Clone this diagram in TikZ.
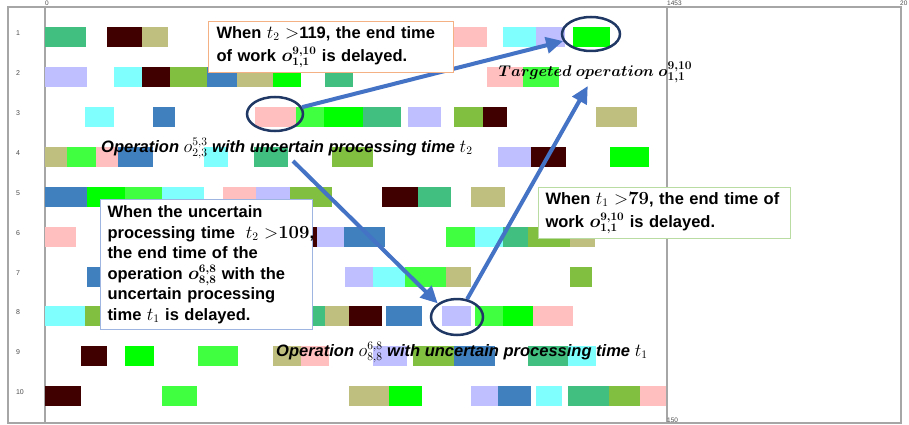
\RequirePackage{fix-cm}
\documentclass[tikz,border=0pt]{standalone}
\usepackage{bm}
\usepackage[no-math]{fontspec}
\setmainfont{Liberation Sans}
\usetikzlibrary{arrows.meta,shapes.geometric}
\DeclareMathSizes{16.5}{18.5}{11.5}{9}
\DeclareMathSizes{15.5}{15.5}{12}{9}
\definecolor{cTeal}{HTML}{40BF80}
\definecolor{cMar}{HTML}{400000}
\definecolor{cKhaki}{HTML}{BFBF80}
\definecolor{cLav}{HTML}{BFBFFF}
\definecolor{cCyan}{HTML}{80FFFF}
\definecolor{cOlive}{HTML}{80BF40}
\definecolor{cSteel}{HTML}{4080BF}
\definecolor{cGreen}{HTML}{00FF00}
\definecolor{cLGreen}{HTML}{40FF40}
\definecolor{cPink}{HTML}{FFBFBF}
\definecolor{frameGray}{HTML}{A6A6A6}
\definecolor{navy}{HTML}{1F3864}
\definecolor{arrowBlue}{HTML}{4472C4}
\definecolor{boxOrange}{HTML}{F4B183}
\definecolor{boxBlue}{HTML}{9DB5E0}
\definecolor{boxGreen}{HTML}{B9DCA2}
\newcommand\gbrow[2]{\foreach \xa/\xb/\cc in {#2}{\fill[\cc] ({\xa},{#1-10}) rectangle ({\xb},{#1+10});}}
\newcommand\tline[1]{\mbox{#1}}
\newcommand\tightls{\setlength{\lineskiplimit}{-20pt}}
\tikzset{
  frameline/.style={draw=frameGray, line width=1.2pt},
  axlab/.style={font=\fontsize{6.5}{7}\selectfont, text=black!70, inner sep=1pt},
  rowlab/.style={font=\fontsize{7}{8}\selectfont, text=black!70, inner sep=0pt},
  oplab/.style={font=\fontsize{16.5}{18}\selectfont\bfseries\itshape, inner sep=1pt},
  tgtlab/.style={font=\fontsize{15.5}{18}\selectfont, inner sep=2.5pt},
  ring/.style={ellipse, draw=navy, line width=2.5pt, inner sep=0pt},
  conn/.style={draw=arrowBlue, line width=4pt, -{Triangle[length=17pt,width=16pt]}},
  callout/.style={draw, fill=white, line width=1pt, align=left, anchor=north west,
    inner xsep=8pt, inner ysep=3pt}
}
\begin{document}
\begin{tikzpicture}[x=1pt,y=-1pt]
\useasboundingbox (0,0) rectangle (909,425);
% frame
\draw[frameline] (8,7) rectangle (901,423);
\draw[frameline] (45,7) -- (45,423);
\draw[frameline] (667,7) -- (667,423);
\node[axlab, anchor=south west] (ax0) at (44,7) {0};
\node[axlab, anchor=south west] (ax1453) at (666,7) {1453};
\node[axlab, anchor=south west] (ax20) at (899,7) {20};
\node[axlab, anchor=south west] (ax150) at (666,424) {150};
% row labels
\foreach \k/\yy in {1/33,2/73,3/113,4/153,5/193,6/233,7/273,8/312,9/352} {\node[rowlab] (r\k) at (18,\yy) {\k};}
\node[rowlab] (r10) at (20,392) {10};
% bars
\gbrow{37}{45/86/cTeal,107/142/cMar,142/168/cKhaki,420/487/cPink,503/536/cCyan,536/565/cLav,573/610/cGreen}
\gbrow{77}{45/87/cLav,114/142/cCyan,142/170/cMar,170/207/cOlive,207/237/cSteel,237/273/cKhaki,273/301/cGreen,325/353/cTeal,487/523/cPink,523/559/cLGreen}
\gbrow{117}{85/114/cCyan,153/175/cSteel,255/296/cPink,296/324/cLGreen,324/363/cGreen,363/401/cTeal,408/441/cLav,454/483/cOlive,483/507/cMar,596/637/cKhaki}
\gbrow{157}{45/67/cKhaki,67/96/cLGreen,96/118/cPink,118/153/cSteel,204/228/cCyan,254/288/cTeal,332/373/cOlive,498/531/cLav,531/566/cMar,610/649/cGreen}
\gbrow{197}{45/87/cSteel,87/125/cGreen,125/162/cLGreen,162/204/cCyan,223/256/cPink,256/290/cLav,290/332/cOlive,382/418/cMar,418/451/cTeal,471/505/cKhaki}
\gbrow{237}{45/76/cPink,300/317/cMar,317/344/cLav,344/385/cSteel,446/475/cLGreen,475/503/cCyan,503/528/cTeal,528/570/cOlive,570/595/cKhaki}
\gbrow{277}{87/110/cSteel,345/373/cLav,373/405/cCyan,405/446/cLGreen,446/471/cKhaki,570/592/cOlive}
\gbrow{316}{45/85/cCyan,85/110/cOlive,300/325/cTeal,325/349/cKhaki,349/382/cMar,386/422/cSteel,442/471/cLav,475/503/cLGreen,503/533/cGreen,533/573/cPink}
\gbrow{356}{81/107/cMar,125/154/cGreen,198/238/cLGreen,273/301/cKhaki,301/329/cPink,373/407/cLav,413/454/cOlive,454/495/cSteel,528/568/cTeal,568/596/cCyan}
\gbrow{396}{45/81/cMar,162/197/cLGreen,349/389/cKhaki,389/422/cGreen,471/498/cLav,498/531/cSteel,536/562/cCyan,568/609/cTeal,609/640/cOlive,640/666/cPink}
% text labels
\node[oplab, anchor=base west] (op23) at (100,152) {Operation $o^{5,3}_{2,3}$ with uncertain processing time $t_2$};
\node[oplab, anchor=base west] (op88) at (275,356) {Operation $o^{6,8}_{8,8}$ with uncertain processing time $t_1$};
\node[tgtlab, anchor=base west] (tgt) at (496,77) {$\bm{Targeted\ operation\ o^{9,10}_{1,1}}$};
% rings
\node[ring, minimum width=56pt, minimum height=34pt] (e1) at (275,114) {};
\node[ring, minimum width=58pt, minimum height=34pt] (e2) at (591,34) {};
\node[ring, minimum width=52pt, minimum height=36pt] (e3) at (457,317) {};
% arrows
\coordinate (a2s) at (293,161);
\draw[conn] (e1) -- (e2);
\draw[conn] (a2s) -- (e3.north west);
\draw[conn] (e3) -- (tgt);
% callouts
\node[callout, draw=boxOrange, minimum width=245pt, minimum height=51pt, text width=229pt,
  font=\fontsize{16.5}{23}\selectfont\bfseries\tightls] (cb1) at (208,21)
  {\tline{When $t_2$ ${>}$119, the end time}\\\tline{of work $\bm{o_{1,1}^{9,10}}$ is delayed.}};
\node[callout, draw=boxBlue, minimum width=212pt, minimum height=130pt, text width=198pt, inner xsep=7pt,
  font=\fontsize{16.5}{20.5}\selectfont\bfseries\tightls] (cb2) at (100,199)
  {\tline{When the uncertain}\\\tline{processing time\ \ $t_2$ ${>}\bm{109}$,}\\\tline{the end time of the}\\\tline{operation $\bm{o_{8,8}^{6,8}}$ with the}\\\tline{uncertain processing}\\\tline{time $t_1$ is delayed.}};
\node[callout, draw=boxGreen, minimum width=252pt, minimum height=51pt, text width=238pt, inner xsep=7pt,
  font=\fontsize{16.5}{23}\selectfont\bfseries\tightls] (cb3) at (538,187)
  {\tline{When $t_1$ ${>}\bm{79}$, the end time of}\\\tline{work $\bm{o_{1,1}^{9,10}}$ is delayed.}};
\end{tikzpicture}
\end{document}
